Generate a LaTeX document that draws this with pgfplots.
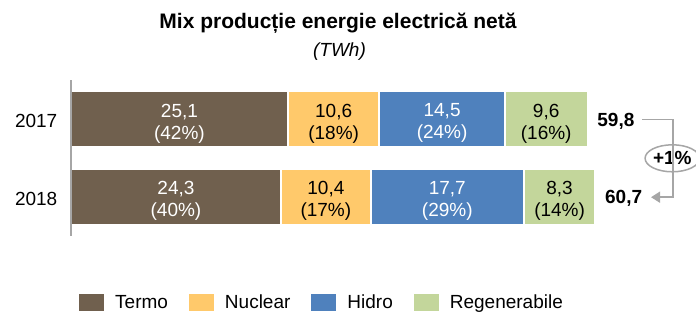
\documentclass[border=0pt]{standalone}
\usepackage{fontspec}
\setmainfont{Liberation Sans}
\usepackage{pgfplots}
\pgfplotsset{compat=1.18}
\usepackage{pgfplotstable}
\usetikzlibrary{arrows.meta,shapes.geometric}

\definecolor{termo}{RGB}{112,96,78}
\definecolor{nuclear}{RGB}{255,201,107}
\definecolor{hidro}{RGB}{79,129,189}
\definecolor{regen}{RGB}{195,214,155}
\definecolor{axgray}{RGB}{166,166,166}

% stacked values (y=1: 2017, y=0: 2018)
\pgfplotstableread{
y termo nuclear hidro regen tot
1 25.1 10.6 14.5 9.6 59.8
0 24.3 10.4 17.7 8.3 60.7
}\mixdata

% segment labels: centre of each segment, value, share
\pgfplotstableread{
xc y v p
12.55 1 25.1 42
42.95 1 14.5 24
12.15 0 24.3 40
43.55 0 17.7 29
}\whitelabels
\pgfplotstableread{
xc y v p
30.40 1 10.6 18
55.00 1 9.6 16
29.50 0 10.4 17
56.55 0 8.3 14
}\blacklabels

\pgfplotsset{
  frame/.style={at={(0pt,0pt)}, anchor=south west,
    x=8.64pt, y=77.8pt, xmin=0, xmax=72.34, ymin=-0.5, ymax=1.5,
    /pgf/number format/assume math mode=true, clip=false},
  seglabel/.style={draw=none, mark=none,
    visualization depends on={\thisrow{v}\as\val},
    visualization depends on={\thisrow{p}\as\pct},
    nodes near coords={\pgfmathprintnumber[fixed,fixed zerofill,precision=1,use comma]{\val}\\(\pgfmathprintnumber[fixed,precision=0]{\pct}\%)},
    nodes near coords style={anchor=center, align=center,
      font=\fontsize{19}{22}\selectfont, text=#1, inner sep=0pt, yshift=-4pt},
  },
}

\begin{document}
\begin{tikzpicture}
\useasboundingbox (-71pt,-76.9pt) rectangle (625pt,236.1pt);
\begin{axis}[
  frame,
  xbar stacked, bar width=56pt,
  axis x line=none,
  axis y line=left,
  y axis line style={draw=axgray, line width=1.6pt, -},
  ytick={0,1}, yticklabels={2018,2017},
  major tick length=0pt,
  yticklabel style={font=\fontsize{19}{22}\selectfont, inner sep=0pt, xshift=-13.5pt, yshift=-1.5pt},
  axis on top,
  legend columns=4,
  legend style={at={(0.0096,-0.4267)}, anchor=west, draw=none, fill=none, inner sep=0pt,
    font=\fontsize{19}{22}\selectfont,
    /tikz/every even column/.append style={column sep=19pt},
    /tikz/every odd column/.append style={column sep=9pt},
    nodes={inner sep=0pt}},
  legend image code/.code={\fill[#1] (0pt,-9.5pt) rectangle (27pt,9.5pt);},
]
\addplot[fill=termo, draw=white, line width=2pt] table[x=termo,y=y] \mixdata;
\addplot[fill=nuclear, draw=white, line width=2pt] table[x=nuclear,y=y] \mixdata;
\addplot[fill=hidro, draw=white, line width=2pt] table[x=hidro,y=y] \mixdata;
\addplot[fill=regen, draw=white, line width=2pt] table[x=regen,y=y] \mixdata;
\legend{Termo,Nuclear,Hidro,Regenerabile}

\draw[axgray, line width=1.5pt, -{Triangle[length=9pt,width=11pt]}]
  (axis cs:66.09,1) -| (axis cs:69.68,0) -- (axis cs:67.13,0);
\node[draw=axgray, line width=1.5pt, fill=white, ellipse, minimum width=52pt, minimum height=27pt,
  inner sep=0pt, font=\bfseries\fontsize{19}{22}\selectfont] at (axis cs:69.6,0.5) {+1\%};
\end{axis}
\begin{axis}[frame, hide axis]
\addplot[seglabel=white] table[x=xc,y=y] \whitelabels;
\addplot[seglabel=black] table[x=xc,y=y] \blacklabels;
\addplot[draw=none, mark=none,
  visualization depends on={\thisrow{tot}\as\tval},
  nodes near coords={\pgfmathprintnumber[fixed,fixed zerofill,precision=1,use comma]{\tval}},
  nodes near coords style={anchor=west, font=\bfseries\fontsize{19}{22}\selectfont,
    inner sep=0pt, inner xsep=9.5pt, text=black, yshift=-1.5pt}]
  table[x=tot,y=y] \mixdata;
\end{axis}
\node[anchor=base, font=\bfseries\fontsize{21}{25}\selectfont] at (267pt,207.1pt) {Mix producție energie electrică netă};
\node[anchor=base, font=\itshape\fontsize{19}{22}\selectfont] at (268.5pt,179.1pt) {(TWh)};
\end{tikzpicture}
\end{document}
